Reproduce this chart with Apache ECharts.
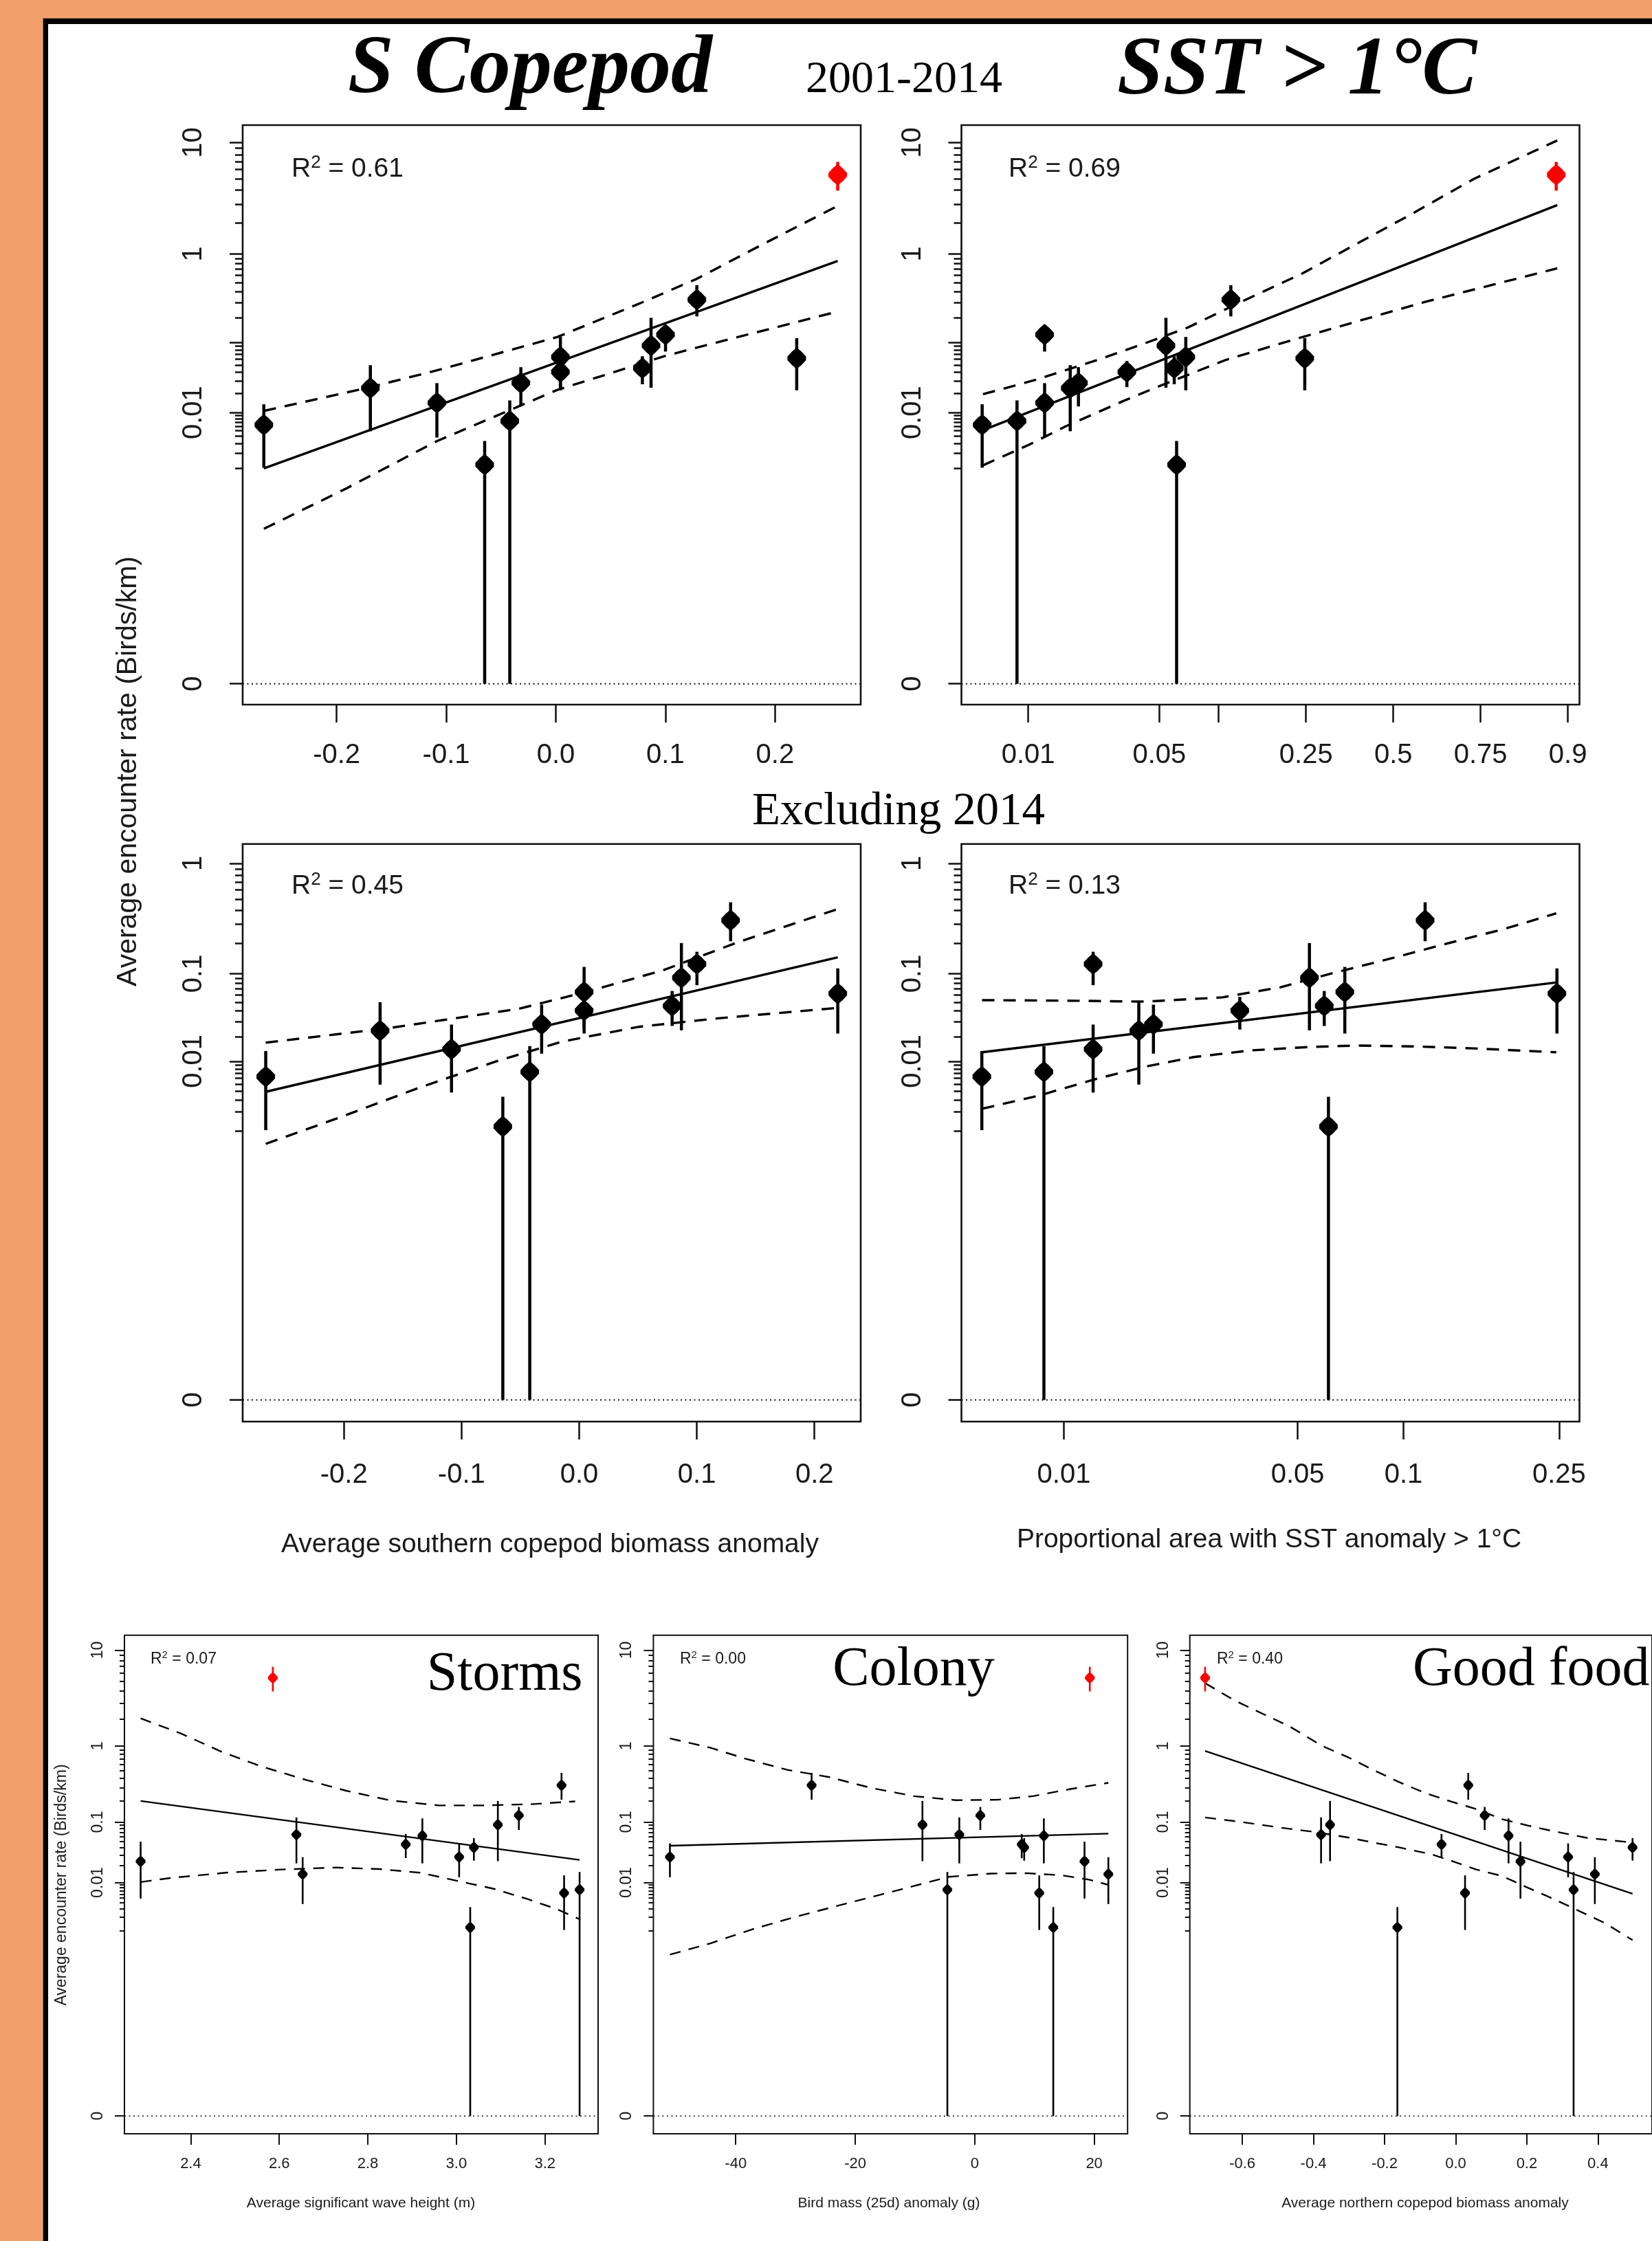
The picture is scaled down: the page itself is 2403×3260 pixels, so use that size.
<!DOCTYPE html>
<html><head><meta charset="utf-8">
<script src="https://cdn.jsdelivr.net/npm/echarts@6/dist/echarts.min.js"></script>
<style>html,body{margin:0;padding:0;background:#F1A06B;}#c{width:2403px;height:3260px;}</style>
</head><body><div id="c"></div>
<script>
// ---------- DATA (encounter rate, birds/km, one entry per year 2001-2014; last = 2014) ----------
const rate   = [0.0063, 0.0073, 0.125, 0.0142, 0.0238, 0.0282, 0.0405, 0.091, 0.0455, 0.00118, 0.0645, 0.325, 0.062, 5.42];
const rateLo = [0.00103, 0, 0.076, 0.0038, 0.0049, 0.0125, 0.0245, 0.024, 0.027, 0, 0.022, 0.208, 0.022, 3.95];
const rateHi = [0.0135, 0.0155, 0.165, 0.028, 0.050, 0.047, 0.057, 0.20, 0.066, 0.0033, 0.117, 0.47, 0.113, 6.95];
const idx2014 = 13;

// covariates
const sCopepodAnom = [-0.2664, -0.0420, 0.1001, -0.1085, -0.1692, -0.0319, 0.0042, 0.0869, 0.0790, -0.0649, 0.0042, 0.1287, 0.2198, 0.2572];
const sstArea      = [0.00563, 0.0087, 0.01227, 0.01227, 0.01686, 0.01866, 0.0338, 0.0541, 0.0597, 0.0614, 0.0684, 0.1146, 0.2471, 0.886];
const waveHeight   = [3.2432, 3.2782, 3.1410, 2.6528, 2.2869, 3.0062, 3.0395, 3.0936, 2.8856, 3.0312, 2.6387, 3.2374, 2.9231, 2.5854];
const birdMass     = [10.80, -4.58, 0.94, 22.37, 18.38, -51.02, 8.28, -8.75, 7.87, 13.15, -2.58, -27.30, 11.57, 19.26];
const nCopepodAnom = [0.0263, 0.3315, 0.0815, 0.3913, 0.1821, 0.3161, 0.4973, -0.3533, -0.0399, -0.1640, -0.3786, 0.0353, 0.1486, -0.7047];

// fitted lines and confidence bands
const tlFitX = [-0.2664, 0.2572], tlFitY = [0.0010, 0.848];
const tlUpX = [-0.2664, -0.1692, -0.1089, 0.0011, 0.0803, 0.1287, 0.1903, 0.2572];
const tlUpY = [0.01063, 0.0245, 0.0423, 0.1163, 0.3076, 0.551, 1.273, 2.883];
const tlLoX = [-0.2664, -0.1925, -0.1089, 0.0011, 0.1001, 0.1287, 0.2572];
const tlLoY = [0.000037, 0.000361, 0.00326, 0.0222, 0.0667, 0.0857, 0.237];

const trFitX = [0.0057, 0.8873], trFitY = [0.00513, 2.934];
const trUpX = [0.00569, 0.01069, 0.02365, 0.0413, 0.0694, 0.1330, 0.2394, 0.556, 0.734, 0.8873];
const trUpY = [0.01924, 0.0306, 0.0590, 0.0957, 0.1515, 0.3189, 0.622, 2.418, 5.00, 10.4];
const trLoX = [0.00569, 0.01009, 0.01592, 0.0322, 0.0515, 0.1085, 0.2244, 0.6006, 0.8873];
const trLoY = [0.00115, 0.00282, 0.00593, 0.01507, 0.0262, 0.0590, 0.1093, 0.3076, 0.710];

const mlFitX = [-0.2664, 0.2198], mlFitY = [0.00389, 0.1457];
const mlUpX = [-0.2664, -0.1623, -0.0516, 0.0057, 0.0713, 0.1369, 0.2198];
const mlUpY = [0.0171, 0.0254, 0.0422, 0.0644, 0.1082, 0.2074, 0.410];
const mlLoX = [-0.2664, -0.2033, -0.1377, -0.0721, -0.0148, 0.0508, 0.1164, 0.2198];
const mlLoY = [0.000611, 0.00164, 0.00434, 0.00981, 0.01758, 0.0264, 0.0329, 0.0433];

const mrFitX = [0.00563, 0.2471], mrFitY = [0.01302, 0.0813];
const mrUpX = [0.00564, 0.00994, 0.01761, 0.0300, 0.0446, 0.0616, 0.0928, 0.1335, 0.1832, 0.2462];
const mrUpY = [0.0526, 0.0520, 0.0507, 0.0564, 0.0724, 0.0989, 0.1426, 0.2011, 0.2690, 0.375];
const mrLoX = [0.00564, 0.00839, 0.01258, 0.01761, 0.0246, 0.0366, 0.0542, 0.0745, 0.1082, 0.1545, 0.2462];
const mrLoY = [0.00221, 0.00343, 0.00589, 0.00851, 0.01132, 0.01375, 0.01515, 0.01578, 0.01536, 0.01454, 0.01302];

const blFitX = [2.2869, 3.2782], blFitY = [0.1999, 0.0252];
const blUpX = [2.2869, 2.3784, 2.4699, 2.5613, 2.6611, 2.7526, 2.8524, 2.9605, 3.0603, 3.1684, 3.2682];
const blUpY = [2.055, 1.388, 0.853, 0.5616, 0.381, 0.2737, 0.2025, 0.1734, 0.1734, 0.1803, 0.1973];
const blLoX = [2.2869, 2.3534, 2.4782, 2.6029, 2.7277, 2.8274, 2.9189, 3.0021, 3.0852, 3.1601, 3.2266, 3.2782];
const blLoY = [0.01019, 0.01209, 0.01506, 0.01716, 0.01862, 0.01746, 0.01506, 0.01074, 0.00758, 0.00481, 0.00299, 0.00181];

const bmFitX = [-51.02, 22.37], bmFitY = [0.0432, 0.0669];
const bmUpX = [-51.02, -44.27, -38.40, -31.35, -24.31, -17.26, -10.22, -3.17, 3.87, 9.75, 16.20, 22.37];
const bmUpY = [1.222, 0.953, 0.705, 0.512, 0.414, 0.2988, 0.2329, 0.2051, 0.2077, 0.2329, 0.2914, 0.350];
const bmLoX = [-51.02, -44.27, -37.22, -30.18, -23.72, -17.26, -10.22, -4.34, 2.70, 8.57, 14.44, 19.14, 22.37];
const bmLoY = [0.000248, 0.000488, 0.00107, 0.00201, 0.00330, 0.00528, 0.00857, 0.0127, 0.01455, 0.01480, 0.01360, 0.01129, 0.00903];

const brFitX = [-0.7047, 0.4973], brFitY = [0.873, 0.00611];
const brUpX = [-0.7047, -0.6214, -0.5399, -0.4674, -0.3768, -0.3044, -0.2319, -0.1594, -0.0870, -0.0145, 0.0580, 0.1304, 0.2029, 0.2754, 0.3659, 0.4973];
const brUpY = [4.79, 3.18, 2.274, 1.675, 1.006, 0.738, 0.512, 0.358, 0.2574, 0.1973, 0.1543, 0.1103, 0.0886, 0.0728, 0.0579, 0.0485];
const brLoX = [-0.7047, -0.6123, -0.4946, -0.3949, -0.2998, -0.2319, -0.1594, -0.0688, -0.0145, 0.0580, 0.1304, 0.2029, 0.2754, 0.3478, 0.4203, 0.4973];
const brLoY = [0.1166, 0.1018, 0.0828, 0.0708, 0.0579, 0.0485, 0.0406, 0.0314, 0.0245, 0.01716, 0.01317, 0.00798, 0.00481, 0.00271, 0.00147, 0.000587];

// tick values / labels
const sCopTicks = [-0.2, -0.1, 0, 0.1, 0.2];
const sstTicksTop = [0.01, 0.05, 0.1, 0.25, 0.5, 0.75, 0.9];
const sstLabelsTop = ['0.01', '0.05', '', '0.25', '0.5', '0.75', '0.9'];
const sstTicksMid = [0.01, 0.05, 0.1, 0.25];
const sstLabelsMid = ['0.01', '0.05', '0.1', '0.25'];
const waveTicks = [2.4, 2.6, 2.8, 3.0, 3.2];
const massTicks = [-40, -20, 0, 20];
const nCopTicks = [-0.6, -0.4, -0.2, 0, 0.2, 0.4];
const yLabTop = [0, 0.01, 1, 10], yMajTop = [0, 0.01, 0.1, 1, 10];
const yLabMid = [0, 0.01, 0.1, 1], yMajMid = [0, 0.01, 0.1, 1];
const yLabBot = [0, 0.01, 0.1, 1, 10], yMajBot = [0, 0.01, 0.1, 1, 10];
const r2Text = ['0.61', '0.69', '0.45', '0.13', '0.07', '0.00', '0.40'];

// ---------- scales ----------
const ty = v => Math.pow(v, 0.1);           // power (0.1) transformed encounter-rate axis
const logit = p => Math.log(p / (1 - p));   // logit proportion axis
const lin = v => v;
function minorTicks(maxDecade) {
  const out = [0.001];
  for (const d of [0.001, 0.01, 0.1, 1]) { if (d >= maxDecade) break; for (let m = 2; m <= 9; m++) out.push(+(d * m).toPrecision(3)); }
  return out;
}
function nearestLabel(vals, labels, tf) {
  return v => { let b = 0, bd = Infinity; vals.forEach((t, k) => { const d = Math.abs(tf(t) - v); if (d < bd) { bd = d; b = k; } }); return labels[b]; };
}

const SANS = '"Liberation Sans", Arial, sans-serif';
const SERIF = '"Liberation Serif", "Times New Roman", serif';
const INK = '#1a1a1a';
const MARK = 'path://M12,0 L18,5 L24,11.5 L24,16.5 L18,23 L12,28 L6,23 L0,16.5 L0,11.5 L6,5 Z';
const BIG = {marker: [27, 31], ebW: 4.5, lineW: 3.4, dash: [18, 13], zeroW: 2, tickW: 2.5, boxW: 2.6, xTickLen: 26, yMajLen: 19, yMinLen: 11, xFont: 40, yFont: 40, yMargin: 51};
const SMALL = {marker: [14, 17], ebW: 2.6, lineW: 2.4, dash: [16, 12], zeroW: 1.5, tickW: 2, boxW: 2, xTickLen: 16, yMajLen: 14, yMinLen: 7, xFont: 22, yFont: 23, yMargin: 27};

const panels = [
  {box: [353, 182, 899, 843], xr: [-0.2857, 0.2782], yr: [-0.0485, 1.2997], xs: sCopepodAnom, xt: lin, w14: true,
   fit: [tlFitX, tlFitY], up: [tlUpX, tlUpY], lo: [tlLoX, tlLoY], xT: sCopTicks, xL: sCopTicks.map(v => v.toFixed(1)),
   yL: yLabTop, yM: yMajTop, yN: minorTicks(10), st: BIG, xMargin: 54},
  {box: [1398.5, 182, 899, 843], xr: [-5.435, 2.343], yr: [-0.0485, 1.2997], xs: sstArea, xt: logit, w14: true,
   fit: [trFitX, trFitY], up: [trUpX, trUpY], lo: [trLoX, trLoY], xT: sstTicksTop, xL: sstLabelsTop,
   yL: yLabTop, yM: yMajTop, yN: minorTicks(10), st: BIG, xMargin: 54},
  {box: [353, 1227.7, 899, 840.3], xr: [-0.2860, 0.2393], yr: [-0.0404, 1.036], xs: sCopepodAnom, xt: lin, w14: false,
   fit: [mlFitX, mlFitY], up: [mlUpX, mlUpY], lo: [mlLoX, mlLoY], xT: sCopTicks, xL: sCopTicks.map(v => v.toFixed(1)),
   yL: yLabMid, yM: yMajMid, yN: minorTicks(1), st: BIG, xMargin: 58},
  {box: [1398.5, 1227.7, 899, 840.3], xr: [-5.318, -0.955], yr: [-0.0404, 1.036], xs: sstArea, xt: logit, w14: false,
   fit: [mrFitX, mrFitY], up: [mrUpX, mrUpY], lo: [mrLoX, mrLoY], xT: sstTicksMid, xL: sstLabelsMid,
   yL: yLabMid, yM: yMajMid, yN: minorTicks(1), st: BIG, xMargin: 58},
  {box: [181, 2378.7, 689, 725.3], xr: [2.2503, 3.320], yr: [-0.048, 1.2993], xs: waveHeight, xt: lin, w14: true,
   fit: [blFitX, blFitY], up: [blUpX, blUpY], lo: [blLoX, blLoY], xT: waveTicks, xL: waveTicks.map(v => v.toFixed(1)),
   yL: yLabBot, yM: yMajBot, yN: minorTicks(10), st: SMALL, xMargin: 33},
  {box: [950.4, 2378.7, 689.8, 725.3], xr: [-53.79, 25.59], yr: [-0.048, 1.2993], xs: birdMass, xt: lin, w14: true,
   fit: [bmFitX, bmFitY], up: [bmUpX, bmUpY], lo: [bmLoX, bmLoY], xT: massTicks, xL: massTicks.map(String),
   yL: yLabBot, yM: yMajBot, yN: minorTicks(10), st: SMALL, xMargin: 33},
  {box: [1730.7, 2378.7, 690.3, 725.3], xr: [-0.7477, 0.552], yr: [-0.048, 1.2993], xs: nCopepodAnom, xt: lin, w14: true,
   fit: [brFitX, brFitY], up: [brUpX, brUpY], lo: [brLoX, brLoY], xT: nCopTicks, xL: nCopTicks.map(v => v.toFixed(1)),
   yL: yLabBot, yM: yMajBot, yN: minorTicks(10), st: SMALL, xMargin: 33}
];

function ebRender(color, w) {
  return function (params, api) {
    const a = api.coord([api.value(0), api.value(1)]);
    const b = api.coord([api.value(0), api.value(2)]);
    return {type: 'line', shape: {x1: a[0], y1: a[1], x2: b[0], y2: b[1]}, style: {stroke: color, lineWidth: w}};
  };
}

const grid = [], xAxis = [], yAxis = [], series = [];
panels.forEach((p, i) => {
  const st = p.st;
  grid.push({left: p.box[0], top: p.box[1], width: p.box[2], height: p.box[3], show: true,
    borderColor: '#111', borderWidth: st.boxW, backgroundColor: 'rgba(0,0,0,0)'});
  const xLabVals = p.xT.filter((_, k) => p.xL[k] !== '');
  xAxis.push({type: 'value', gridIndex: i, min: p.xr[0], max: p.xr[1], position: 'bottom',
    axisLine: {show: false, onZero: false}, splitLine: {show: false},
    axisTick: {show: true, customValues: p.xT.map(p.xt), length: st.xTickLen, lineStyle: {color: '#111', width: st.tickW}},
    axisLabel: {show: true, customValues: xLabVals.map(p.xt), formatter: nearestLabel(p.xT, p.xL, p.xt), margin: p.xMargin,
      fontSize: st.xFont, fontFamily: SANS, color: INK}});
  const yFmt = nearestLabel(p.yL, p.yL.map(String), ty);
  yAxis.push({type: 'value', gridIndex: i, min: p.yr[0], max: p.yr[1], position: 'left',
    axisLine: {show: false, onZero: false}, splitLine: {show: false},
    axisTick: {show: true, customValues: p.yM.map(ty), length: st.yMajLen, lineStyle: {color: '#111', width: st.tickW}},
    axisLabel: {show: true, customValues: p.yL.map(ty), formatter: yFmt, rotate: 90, margin: st.yMargin,
      fontSize: st.yFont, fontFamily: SANS, color: INK}});
  yAxis.push({type: 'value', gridIndex: i, min: p.yr[0], max: p.yr[1], position: 'left',
    axisLine: {show: false, onZero: false}, splitLine: {show: false},
    axisTick: {show: true, customValues: p.yN.map(ty), length: st.yMinLen, lineStyle: {color: '#111', width: st.tickW}},
    axisLabel: {show: false}});
  const yi = 2 * i;
  const common = {xAxisIndex: i, yAxisIndex: yi, silent: true, animation: false};
  series.push(Object.assign({type: 'line', data: [[p.xr[0], 0], [p.xr[1], 0]], symbol: 'none',
    lineStyle: {type: [2, 4.5], width: st.zeroW, color: '#111'}, z: 1}, common));
  const mk = (X, Y) => X.map((x, k) => [p.xt(x), ty(Y[k])]);
  series.push(Object.assign({type: 'line', data: mk(p.lo[0], p.lo[1]), symbol: 'none', lineStyle: {type: st.dash, width: st.lineW, color: '#000'}, z: 2}, common));
  series.push(Object.assign({type: 'line', data: mk(p.up[0], p.up[1]), symbol: 'none', lineStyle: {type: st.dash, width: st.lineW, color: '#000'}, z: 2}, common));
  series.push(Object.assign({type: 'line', data: mk(p.fit[0], p.fit[1]), symbol: 'none', lineStyle: {type: 'solid', width: st.lineW, color: '#000'}, z: 2}, common));
  const black = rate.map((_, k) => k).filter(k => k !== idx2014);
  series.push(Object.assign({type: 'custom', renderItem: ebRender('#000', st.ebW), encode: {x: 0, y: [1, 2]},
    data: black.map(k => [p.xt(p.xs[k]), ty(rateLo[k]), ty(rateHi[k])]), z: 3}, common));
  series.push(Object.assign({type: 'scatter', symbol: MARK, symbolSize: st.marker, itemStyle: {color: '#000', opacity: 1},
    data: black.map(k => [p.xt(p.xs[k]), ty(rate[k])]), z: 4}, common));
  if (p.w14) {
    const k = idx2014;
    series.push(Object.assign({type: 'custom', renderItem: ebRender('#ff0000', st.ebW), encode: {x: 0, y: [1, 2]},
      data: [[p.xt(p.xs[k]), ty(rateLo[k]), ty(rateHi[k])]], z: 3}, common));
    series.push(Object.assign({type: 'scatter', symbol: MARK, symbolSize: st.marker, itemStyle: {color: '#ff0000', opacity: 1},
      data: [[p.xt(p.xs[k]), ty(rate[k])]], z: 4}, common));
  }
});

function txt(x, y, text, font, opts) {
  opts = opts || {};
  return {type: 'text', z: 50, silent: true, x: x, y: y, rotation: opts.rot || 0,
    style: Object.assign({text: text, font: font, fill: opts.fill || INK, align: opts.align || 'center', textAlign: opts.align || 'center',
      verticalAlign: 'middle', textVerticalAlign: 'middle'}, opts.rich ? {rich: opts.rich} : {})};
}
function r2(x, y, val, size) {
  const rich = {a: {fontSize: size, fontFamily: SANS, fill: INK, lineHeight: size * 1.15},
                b: {fontSize: Math.round(size * 0.66), fontFamily: SANS, fill: INK, verticalAlign: 'top', lineHeight: size * 0.7}};
  return txt(x, y, '{a|R}{b|2}{a| = ' + val + '}', size + 'px ' + SANS, {align: 'left', rich: rich});
}

const graphic = [
  {type: 'rect', z: -20, silent: true, shape: {x: 62.7, y: 26.7, width: 2500, height: 3400}, style: {fill: '#000'}},
  {type: 'rect', z: -19, silent: true, shape: {x: 70, y: 35, width: 2500, height: 3400}, style: {fill: '#fff'}},
  txt(506, 103, 'S Copepod', 'italic bold 120px ' + SERIF, {align: 'left', fill: '#000'}),
  txt(1172, 117, '2001-2014', '66px ' + SERIF, {align: 'left', fill: '#000'}),
  txt(1625, 105, 'SST > 1°C', 'italic bold 120px ' + SERIF, {align: 'left', fill: '#000'}),
  txt(1307, 1181, 'Excluding 2014', '67px ' + SERIF, {fill: '#000'}),
  txt(187, 1122, 'Average encounter rate (Birds/km)', '41px ' + SANS, {rot: Math.PI / 2}),
  txt(89.5, 2742, 'Average encounter rate (Birds/km)', '23px ' + SANS, {rot: Math.PI / 2}),
  txt(800, 2247, 'Average southern copepod biomass anomaly', '39px ' + SANS),
  txt(1846, 2240, 'Proportional area with SST anomaly > 1°C', '39px ' + SANS),
  txt(525, 3205, 'Average significant wave height (m)', '21px ' + SANS),
  txt(1293, 3205, 'Bird mass (25d) anomaly (g)', '21px ' + SANS),
  txt(2073, 3205, 'Average northern copepod biomass anomaly', '21px ' + SANS),
  txt(847.5, 2437, 'Storms', '80px ' + SERIF, {align: 'right', fill: '#000'}),
  txt(1329, 2430, 'Colony', '80px ' + SERIF, {fill: '#000'}),
  txt(2055, 2430, 'Good food', '80px ' + SERIF, {align: 'left', fill: '#000'}),
  r2(424, 246, r2Text[0], 39), r2(1467, 246, r2Text[1], 39),
  r2(424, 1289, r2Text[2], 39), r2(1467, 1289, r2Text[3], 39),
  r2(219, 2414, r2Text[4], 23), r2(989, 2414, r2Text[5], 23), r2(1770, 2414, r2Text[6], 23)
];

const chart = echarts.init(document.getElementById('c'), null, {renderer: 'canvas', width: 2403, height: 3260});
chart.setOption({backgroundColor: '#F1A06B', animation: false, grid: grid, xAxis: xAxis, yAxis: yAxis, series: series, graphic: graphic});
</script></body></html>
